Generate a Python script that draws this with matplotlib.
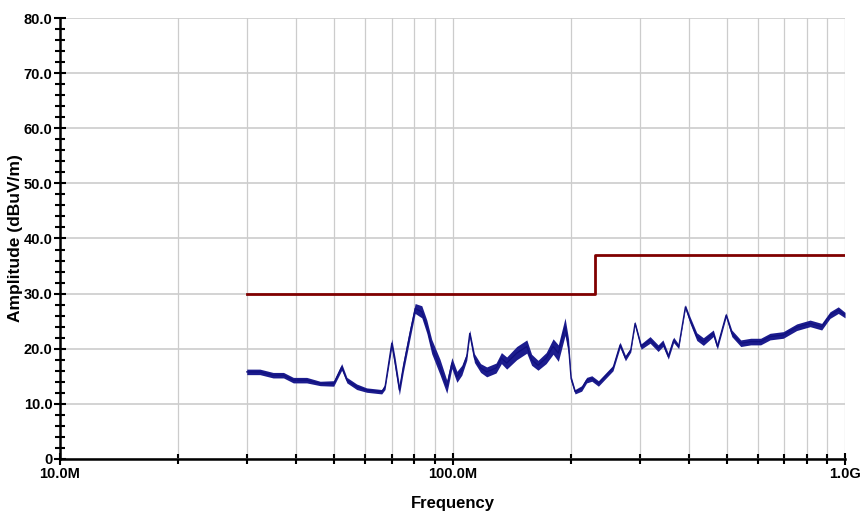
import matplotlib.pyplot as plt
from matplotlib.ticker import FixedLocator, FixedFormatter, MultipleLocator
import numpy as np

freq_mhz = [29.9, 32.3, 34.9, 37.1, 39.3, 42.5, 46.0, 49.8, 52.2, 53.8,
            57.0, 60.4, 66.0, 67.3, 70.0, 71.4, 73.2, 74.9, 77.9, 80.3,
            83.5, 86.0, 88.5, 92.9, 96.7, 99.6, 102.6, 105.6, 108.7, 110.6,
            113.7, 117.9, 122.2, 129.1, 133.2, 137.4, 145.7, 154.6, 159.0, 165.1,
            173.2, 180.4, 186.0, 193.5, 197.5, 200.4, 205.2, 213.3, 219.6, 226.4,
            235.3, 256.4, 267.2, 275.7, 284.5, 291.7, 302.3, 318.6, 334.0, 343.6,
            354.6, 365.8, 376.9, 391.9, 402.8, 419.0, 435.5, 461.8, 472.8, 497.7,
            514.6, 542.4, 575.0, 609.5, 644.0, 696.0, 753.0, 814.5, 872.0, 915.6,
            961.0, 1000.0]
amplitude = [15.8, 15.8, 15.2, 15.2, 14.3, 14.3, 13.7, 13.7, 16.7, 14.3,
             13.1, 12.5, 12.2, 13.1, 21.0, 17.4, 12.5, 16.7, 22.8, 27.3,
             26.7, 24.0, 20.4, 16.7, 13.1, 17.4, 14.9, 16.1, 18.6, 22.8,
             18.3, 16.5, 15.8, 16.5, 18.3, 17.4, 19.2, 20.4, 18.0, 17.0,
             18.3, 20.4, 19.2, 24.0, 20.4, 14.6, 12.2, 12.8, 14.3, 14.6,
             13.7, 16.5, 20.7, 18.3, 19.8, 24.6, 20.4, 21.6, 20.1, 21.0,
             18.6, 21.6, 20.4, 27.6, 25.2, 22.2, 21.3, 22.8, 20.4, 26.1,
             22.8, 21.0, 21.3, 21.3, 22.2, 22.5, 23.9, 24.6, 24.0, 26.1,
             27.0, 26.1]
# semiancho de la banda de ruido (dB)
spread = [0.5, 0.5, 0.5, 0.5, 0.5, 0.5, 0.4, 0.5, 0.6, 0.5,
          0.5, 0.4, 0.4, 0.5, 0.8, 1.0, 0.9, 1.0, 1.0, 0.9,
          1.1, 1.2, 1.3, 1.4, 1.2, 1.0, 1.0, 0.9, 0.7, 0.6,
          0.8, 0.8, 0.9, 0.9, 1.0, 1.1, 1.2, 1.2, 1.0, 0.9,
          1.0, 1.4, 1.5, 1.6, 1.4, 0.5, 0.4, 0.5, 0.5, 0.5,
          0.5, 0.5, 0.5, 0.5, 0.4, 0.4, 0.5, 0.6, 0.6, 0.6,
          0.5, 0.5, 0.4, 0.4, 0.6, 0.7, 0.7, 0.6, 0.5, 0.4,
          0.6, 0.6, 0.6, 0.6, 0.6, 0.6, 0.6, 0.6, 0.6, 0.6,
          0.6, 0.5]

# Linea limite
limit_freq = [30, 230, 230, 1000]
limit_amp = [30, 30, 37, 37]

x_ticks = [10, 100, 1000]
x_labels = ['10.0M', '100.0M', '1.0G']
y_ticks = [0, 10, 20, 30, 40, 50, 60, 70, 80]
y_labels = ['0', '10.0', '20.0', '30.0', '40.0', '50.0', '60.0', '70.0', '80.0']

plt.rcParams['font.family'] = ['Liberation Sans', 'DejaVu Sans']

fig = plt.figure(figsize=(8.6, 5.13), dpi=100)
ax = fig.add_axes([0.0698, 0.1053, 0.9128, 0.8596])

f = np.array(freq_mhz)
a = np.array(amplitude)
s = np.array(spread)
ax.fill_between(f, a - s, a + s, color='#1c1c8e', lw=0, zorder=3)
ax.plot(f, a, color='#10107e', lw=0.9, zorder=4)
ax.plot(limit_freq, limit_amp, color='#800000', lw=2, zorder=5)

ax.set_xscale('log')
ax.set_xlim(10, 1000)
ax.set_ylim(0, 80)

minor_x = [m * d for d in (10, 100) for m in range(2, 10)]
ax.xaxis.set_major_locator(FixedLocator(x_ticks))
ax.xaxis.set_major_formatter(FixedFormatter(x_labels))
ax.xaxis.set_minor_locator(FixedLocator(minor_x))
ax.xaxis.set_minor_formatter(FixedFormatter([''] * len(minor_x)))
ax.yaxis.set_major_locator(FixedLocator(y_ticks))
ax.yaxis.set_major_formatter(FixedFormatter(y_labels))
ax.yaxis.set_minor_locator(MultipleLocator(2))

ax.grid(which='both', axis='x', color='#cccccc', lw=0.9)
ax.grid(which='major', axis='y', color='#cccccc', lw=1.2)
ax.set_axisbelow(True)

for side in ('top', 'right'):
    ax.spines[side].set_visible(False)
for side in ('left', 'bottom'):
    ax.spines[side].set_linewidth(1.8)

ax.tick_params(which='major', direction='inout', length=9, width=1.5,
               labelsize=10.5, pad=1)
ax.tick_params(which='minor', direction='inout', length=7, width=1.5)
for lbl in ax.get_xticklabels() + ax.get_yticklabels():
    lbl.set_fontweight('bold')

ax.set_xlabel('Frequency', fontsize=12, fontweight='bold')
ax.set_ylabel('Amplitude (dBuV/m)', fontsize=12.5, fontweight='bold')
ax.xaxis.set_label_coords(0.5, -0.085)
ax.yaxis.set_label_coords(-0.047, 0.5)

plt.savefig('out.png', dpi=100)
